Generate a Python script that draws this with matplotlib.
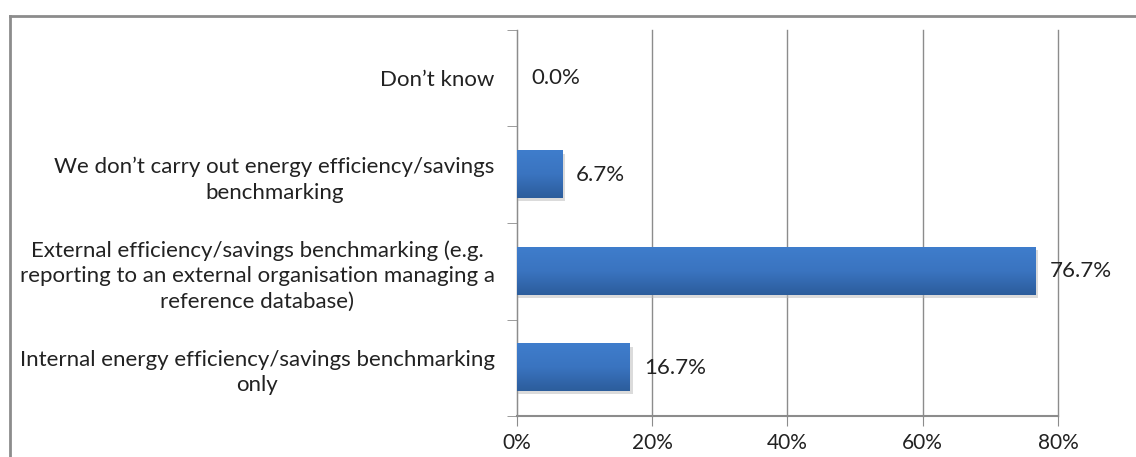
import numpy as np
import matplotlib.pyplot as plt
from matplotlib.patches import Rectangle
from matplotlib.colors import LinearSegmentedColormap
from matplotlib.ticker import FuncFormatter

plt.rcParams['font.family'] = ['Lato', 'DejaVu Sans']

categories = [
    'Internal energy efficiency/savings benchmarking\nonly',
    'External efficiency/savings benchmarking (e.g.\nreporting to an external organisation managing a\nreference database)',
    'We don\u2019t carry out energy efficiency/savings\nbenchmarking',
    'Don\u2019t know',
]
values = [16.7, 76.7, 6.7, 0.0]
xticks = [0, 20, 40, 60, 80]

fig = plt.figure(figsize=(11.36, 4.57), dpi=100)
ax = fig.add_axes([0.4551, 0.0897, 0.4762, 0.8447])

# outer frame of the chart area (top and left edge only visible)
fig.add_artist(plt.Line2D([0.0088, 1.0], [0.966, 0.966], transform=fig.transFigure,
                          color='#8c8c8c', lw=2))
fig.add_artist(plt.Line2D([0.0088, 0.0088], [0.0, 0.966], transform=fig.transFigure,
                          color='#8c8c8c', lw=2))

y = np.arange(len(categories))
bars = ax.barh(y, values, height=0.49, color='#3a73bf', zorder=3)

# vertical gradient + soft shadow on each bar
grad = np.linspace(0, 1, 64).reshape(-1, 1)
cmap = LinearSegmentedColormap.from_list('bar', ['#2c5d9c', '#3a74c0', '#3f7dcc'])
for b in bars:
    x0, y0, w, h = b.get_x(), b.get_y(), b.get_width(), b.get_height()
    if w <= 0:
        continue
    ax.add_patch(Rectangle((x0, y0 - 0.03), w + 0.4, h, color='#b8b8b8', alpha=0.5, zorder=2, lw=0))
    ax.imshow(grad, extent=(x0, x0 + w, y0, y0 + h), origin='lower', cmap=cmap,
              aspect='auto', zorder=3.5)

for yi, v in zip(y, values):
    ax.annotate(f'{v:.1f}%', (v, yi), xytext=(10, 0), textcoords='offset points',
                va='center', ha='left', fontsize=16, color='#222222', zorder=5)

ax.set_xlim(0, 80)
ax.set_ylim(-0.5, len(categories) - 0.5)
ax.set_xticks(xticks)
ax.xaxis.set_major_formatter(FuncFormatter(lambda v, p: f'{v:.0f}%'))
ax.set_yticks(y)
ax.set_yticklabels(categories, ha='right', multialignment='center', linespacing=1.35)
ax.tick_params(axis='y', length=0, pad=16, labelsize=16, labelcolor='#222222')
ax.set_yticks(np.arange(-0.5, len(categories), 1), minor=True)
ax.tick_params(axis='y', which='minor', length=7, color='#8c8c8c', direction='out')
ax.tick_params(axis='x', length=7, color='#8c8c8c', labelsize=15, labelcolor='#222222', pad=5)

ax.grid(axis='x', color='#8c8c8c', lw=1, zorder=0)
for gl in ax.get_xgridlines():
    gl.set_clip_on(False)
for s in ['top', 'right']:
    ax.spines[s].set_visible(False)
ax.spines['left'].set_color('#8c8c8c')
ax.spines['bottom'].set_color('#8c8c8c')
ax.spines['bottom'].set_linewidth(1.5)
ax.set_axisbelow(True)

fig.savefig('out.png', dpi=100)
